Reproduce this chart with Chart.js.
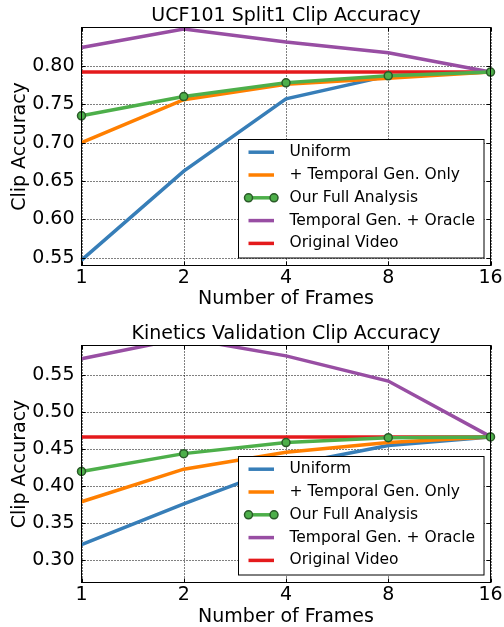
<!DOCTYPE html>
<html><head><meta charset="utf-8">
<script src="https://cdn.jsdelivr.net/npm/chart.js@4.4.0/dist/chart.umd.min.js"></script>
<style>
html,body{margin:0;padding:0;background:#fff;overflow:hidden;width:504px;height:627px}
canvas{position:absolute;left:0;display:block}
</style></head><body>
<canvas id="c1" width="504" height="310" style="top:0"></canvas>
<canvas id="c2" width="504" height="317" style="top:310px"></canvas>
<script>
const frames = ['1', '2', '4', '8', '16'];
const seriesLabels = ['Uniform', '+ Temporal Gen. Only', 'Our Full Analysis', 'Temporal Gen. + Oracle', 'Original Video'];
const seriesColors = ['#377eb8', '#ff7f00', '#4daf4a', '#984ea3', '#e41a1c'];

const ucfUniform  = [0.547, 0.663, 0.757, 0.787, 0.792];
const ucfTemporal = [0.700, 0.756, 0.776, 0.784, 0.792];
const ucfFull     = [0.735, 0.760, 0.778, 0.787, 0.792];
const ucfOracle   = [0.824, 0.848, 0.831, 0.817, 0.792];
const ucfOriginal = [0.792, 0.792, 0.792, 0.792, 0.792];
const ucfTicks    = [0.55, 0.60, 0.65, 0.70, 0.75, 0.80];

const kinUniform  = [0.321, 0.376, 0.428, 0.455, 0.4665];
const kinTemporal = [0.379, 0.423, 0.446, 0.459, 0.4665];
const kinFull     = [0.420, 0.444, 0.459, 0.4656, 0.4665];
const kinOracle   = [0.572, 0.600, 0.576, 0.542, 0.467];
const kinOriginal = [0.4665, 0.4665, 0.4665, 0.4665, 0.4665];
const kinTicks    = [0.30, 0.35, 0.40, 0.45, 0.50, 0.55];

const FONT = '"DejaVu Sans", sans-serif';
const drawOrder = [4, 3, 0, 1, 2];

const gridPlugin = {
  id: 'dottedGrid',
  beforeDatasetsDraw(chart) {
    const {ctx, chartArea: a, scales} = chart;
    ctx.save();
    ctx.strokeStyle = '#000';
    ctx.lineWidth = 1;
    ctx.setLineDash([1, 2]);
    ctx.beginPath();
    scales.x.ticks.forEach((t, i) => {
      const px = Math.round(scales.x.getPixelForTick(i)) + 0.5;
      ctx.moveTo(px, a.top); ctx.lineTo(px, a.bottom);
    });
    scales.y.ticks.forEach(t => {
      const py = Math.round(scales.y.getPixelForValue(t.value)) + 0.5;
      ctx.moveTo(a.left, py); ctx.lineTo(a.right, py);
    });
    ctx.stroke();
    ctx.restore();
  }
};

const framePlugin = {
  id: 'frameTicks',
  afterDatasetsDraw(chart) {
    const {ctx, chartArea: a, scales} = chart;
    ctx.save();
    ctx.strokeStyle = '#000';
    ctx.lineWidth = 1;
    ctx.beginPath();
    const L = 4;
    scales.x.ticks.forEach((t, i) => {
      const px = Math.round(scales.x.getPixelForTick(i)) + 0.5;
      ctx.moveTo(px, a.bottom); ctx.lineTo(px, a.bottom - L);
      ctx.moveTo(px, a.top); ctx.lineTo(px, a.top + L);
    });
    scales.y.ticks.forEach(t => {
      const py = Math.round(scales.y.getPixelForValue(t.value)) + 0.5;
      ctx.moveTo(a.left, py); ctx.lineTo(a.left + L, py);
      ctx.moveTo(a.right, py); ctx.lineTo(a.right - L, py);
    });
    ctx.stroke();
    ctx.strokeRect(a.left, a.top, a.right - a.left, a.bottom - a.top);
    ctx.restore();
  }
};

const legendPlugin = {
  id: 'insideLegend',
  afterDraw(chart) {
    const {ctx, chartArea: a} = chart;
    const w = 245.5, h = 118.5;
    const x0 = Math.round(a.right - 7.5 - w) + 0.5;
    const y0 = Math.round(a.bottom - 8 - h) + 0.5;
    ctx.save();
    ctx.fillStyle = '#fff';
    ctx.fillRect(x0, y0, w, h);
    ctx.strokeStyle = '#000';
    ctx.lineWidth = 1;
    ctx.strokeRect(x0, y0, w, h);
    ctx.font = '15.5px ' + FONT;
    ctx.textBaseline = 'middle';
    ctx.textAlign = 'left';
    chart.data.datasets.forEach((ds, i) => {
      const y = y0 + 12.7 + i * 22.8;
      ctx.strokeStyle = ds.borderColor;
      ctx.lineWidth = ds.borderWidth;
      ctx.beginPath();
      ctx.moveTo(x0 + 10, y); ctx.lineTo(x0 + 35.5, y);
      ctx.stroke();
      if (ds.pointRadius > 0) {
        [x0 + 10, x0 + 35.5].forEach(px => {
          ctx.beginPath();
          ctx.arc(px, y, ds.pointRadius, 0, Math.PI * 2);
          ctx.fillStyle = ds.pointBackgroundColor;
          ctx.fill();
          ctx.lineWidth = ds.pointBorderWidth;
          ctx.strokeStyle = ds.pointBorderColor;
          ctx.stroke();
        });
      }
      ctx.fillStyle = '#000';
      ctx.fillText(ds.label, x0 + 51, y);
    });
    ctx.restore();
  }
};

function makeChart(id, title, series, yMin, yMax, yTicks, geo) {
  const datasets = series.map((d, i) => {
    const isFull = i === 2;
    return {
      label: seriesLabels[i],
      data: d,
      borderColor: seriesColors[i],
      backgroundColor: seriesColors[i],
      borderWidth: 3.5,
      tension: 0,
      order: drawOrder[i],
      pointRadius: isFull ? 4 : 0,
      pointHoverRadius: isFull ? 4 : 0,
      pointBackgroundColor: '#4daf4a',
      pointBorderColor: '#2a5a28',
      pointBorderWidth: 1.5,
      clip: isFull ? false : undefined
    };
  });
  return new Chart(document.getElementById(id), {
    type: 'line',
    data: {labels: frames, datasets},
    options: {
      responsive: false,
      animation: false,
      events: [],
      layout: {padding: {left: 0, right: 13.5, top: geo.padTop, bottom: 0}},
      plugins: {
        legend: {display: false},
        tooltip: {enabled: false},
        title: {
          display: true, text: title, color: '#000', fullSize: false,
          font: {family: FONT, size: 19, weight: 'normal', lineHeight: 1.2},
          padding: {top: geo.titleTop, bottom: 0}
        }
      },
      scales: {
        x: {
          type: 'category',
          offset: false,
          afterFit: s => { s.height = 44.5; },
          grid: {display: false, drawTicks: false},
          border: {display: false},
          ticks: {color: '#000', font: {family: FONT, size: 19}, padding: 1, maxRotation: 0, autoSkip: false},
          title: {display: true, text: 'Number of Frames', color: '#000',
                  font: {family: FONT, size: 19, lineHeight: geo.xTitleLH}, padding: {top: 0, bottom: 0}}
        },
        y: {
          min: yMin, max: yMax,
          afterFit: s => { s.width = 81.5; },
          afterBuildTicks: s => { s.ticks = yTicks.map(v => ({value: v})); },
          grid: {display: false, drawTicks: false},
          border: {display: false},
          ticks: {color: '#000', font: {family: FONT, size: 19}, padding: 7,
                  callback: v => Number(v).toFixed(2)},
          title: {display: true, text: 'Clip Accuracy', color: '#000',
                  font: {family: FONT, size: 19, lineHeight: 1.2}, padding: {top: 9, bottom: 0}}
        }
      }
    },
    plugins: [gridPlugin, framePlugin, legendPlugin]
  });
}

makeChart('c1', 'UCF101 Split1 Clip Accuracy',
  [ucfUniform, ucfTemporal, ucfFull, ucfOracle, ucfOriginal],
  0.54, 0.85, ucfTicks, {padTop: 0, titleTop: 4.7, xTitleLH: 1.2});
makeChart('c2', 'Kinetics Validation Clip Accuracy',
  [kinUniform, kinTemporal, kinFull, kinOracle, kinOriginal],
  0.27, 0.59, kinTicks, {padTop: 6, titleTop: 6.7, xTitleLH: 1.05});
</script>
</body></html>
